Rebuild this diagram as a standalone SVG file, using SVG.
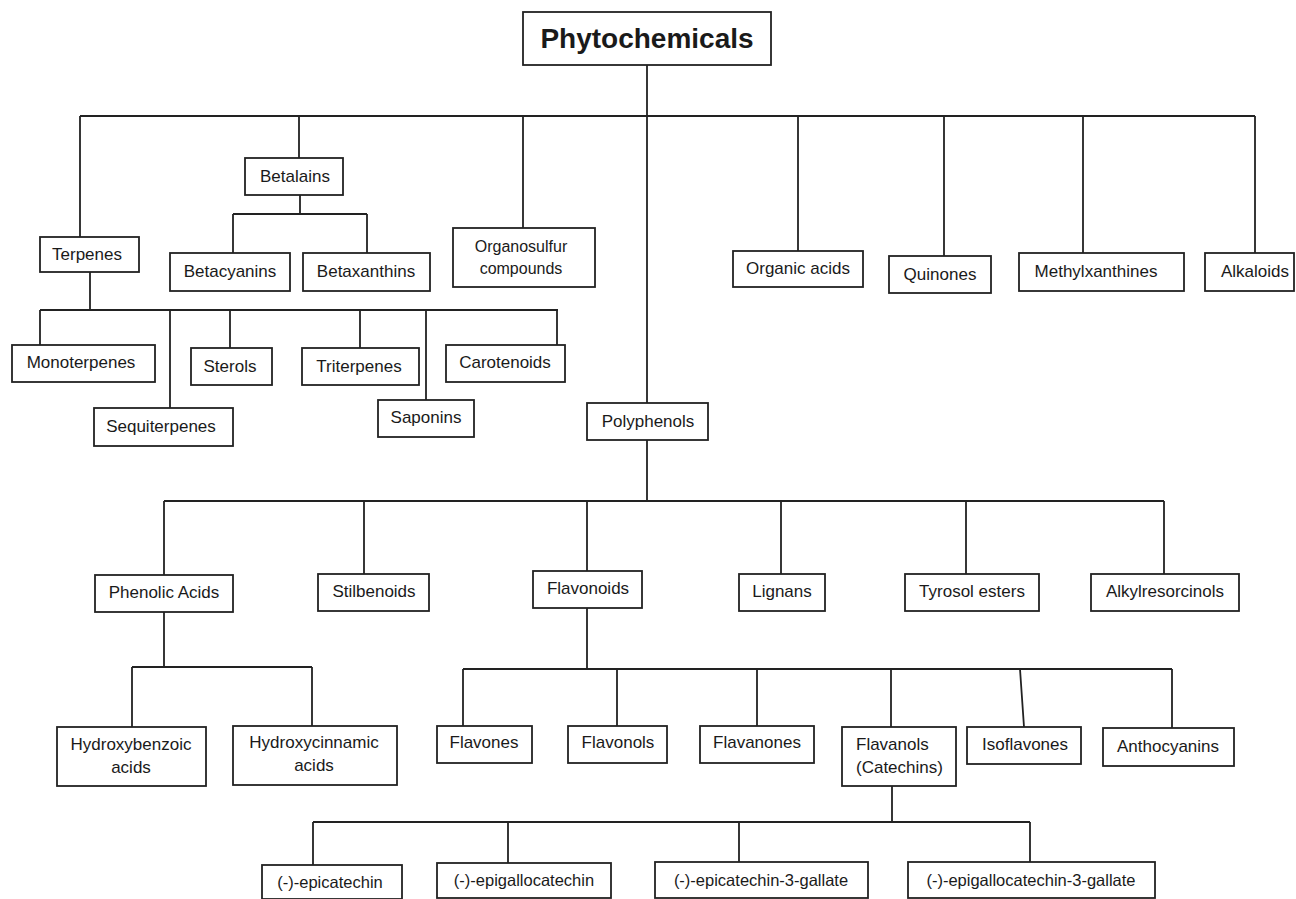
<svg xmlns="http://www.w3.org/2000/svg" width="1296" height="899" viewBox="0 0 1296 899">
<style>
rect{fill:#fff;stroke:#222;stroke-width:1.8}
text{font-family:"Liberation Sans",Arial,sans-serif;font-size:17px;fill:#1a1a1a;text-anchor:middle}
.title{font-size:28px;font-weight:bold}
.sm{font-size:16px}
.bt{font-size:16.5px}
.lines path{fill:none;stroke:#222;stroke-width:1.8}
</style>
<rect x="0" y="0" width="1296" height="899" style="fill:#fff;stroke:none"/>
<g class="lines" id="connectors">
<path d="M647 65V116M80 116H1255M80 116V237M299 116V158M523 116V228M798 116V251M944 116V256M1083 116V253M1255 116V253M647 116V403"/>
<path d="M300 195V214M233 214H367M233 214V253M367 214V253"/>
<path d="M90 272V310M40 310H558M40 310V345M170 310V408M230 310V348M360 310V348M426 310V400M557 310V345"/>
<path d="M647 440V501M164 501H1164M164 501V575M364 501V574M587 501V571M781 501V574M966 501V574M1164 501V574"/>
<path d="M164 612V667M132 667H312M132 667V727M312 667V726"/>
<path d="M587 608V669M463 669H1172M463 669V726M617 669V726M757 669V726M891 669V727M1020 669L1024 727M1172 669V728"/>
<path d="M892 786V822M313 822H1030M313 822V865M508 822V863M739 822V862M1030 822V862"/>
</g>
<g id="phytochemicals"><rect x="523" y="12" width="248" height="53"/><text class="title" x="647" y="48">Phytochemicals</text></g>
<g id="terpenes"><rect x="40" y="237" width="99" height="35"/><text x="87" y="260">Terpenes</text></g>
<g id="betalains"><rect x="245" y="158" width="98" height="37"/><text x="295" y="182">Betalains</text></g>
<g id="betacyanins"><rect x="170" y="253" width="120" height="38"/><text x="230" y="277">Betacyanins</text></g>
<g id="betaxanthins"><rect x="303" y="253" width="127" height="38"/><text x="366" y="277">Betaxanthins</text></g>
<g id="organosulfur"><rect x="453" y="228" width="142" height="59"/><text class="sm" x="521" y="252">Organosulfur</text><text class="sm" x="521" y="274">compounds</text></g>
<g id="organic-acids"><rect x="733" y="251" width="130" height="36"/><text x="798" y="274">Organic acids</text></g>
<g id="quinones"><rect x="889" y="256" width="102" height="37"/><text x="940" y="280">Quinones</text></g>
<g id="methylxanthines"><rect x="1019" y="253" width="165" height="38"/><text x="1096" y="277">Methylxanthines</text></g>
<g id="alkaloids"><rect x="1205" y="253" width="89" height="38"/><text x="1255" y="277">Alkaloids</text></g>
<g id="monoterpenes"><rect x="12" y="345" width="143" height="37"/><text x="81" y="368">Monoterpenes</text></g>
<g id="sequiterpenes"><rect x="94" y="408" width="139" height="38"/><text x="161" y="432">Sequiterpenes</text></g>
<g id="sterols"><rect x="191" y="348" width="81" height="37"/><text x="230" y="372">Sterols</text></g>
<g id="triterpenes"><rect x="302" y="348" width="117" height="37"/><text x="359" y="372">Triterpenes</text></g>
<g id="saponins"><rect x="378" y="400" width="96" height="37"/><text x="426" y="423">Saponins</text></g>
<g id="carotenoids"><rect x="446" y="345" width="119" height="37"/><text x="505" y="368">Carotenoids</text></g>
<g id="polyphenols"><rect x="587" y="403" width="121" height="37"/><text x="648" y="427">Polyphenols</text></g>
<g id="phenolic-acids"><rect x="95" y="575" width="138" height="37"/><text x="164" y="598">Phenolic Acids</text></g>
<g id="stilbenoids"><rect x="318" y="574" width="111" height="37"/><text x="374" y="597">Stilbenoids</text></g>
<g id="flavonoids"><rect x="533" y="571" width="109" height="37"/><text x="588" y="594">Flavonoids</text></g>
<g id="lignans"><rect x="739" y="574" width="86" height="37"/><text x="782" y="597">Lignans</text></g>
<g id="tyrosol-esters"><rect x="905" y="574" width="134" height="37"/><text x="972" y="597">Tyrosol esters</text></g>
<g id="alkylresorcinols"><rect x="1091" y="574" width="148" height="37"/><text x="1165" y="597">Alkylresorcinols</text></g>
<g id="hydroxybenzoic"><rect x="57" y="727" width="149" height="59"/><text x="131" y="750">Hydroxybenzoic</text><text x="131" y="773">acids</text></g>
<g id="hydroxycinnamic"><rect x="233" y="726" width="164" height="59"/><text x="314" y="748">Hydroxycinnamic</text><text x="314" y="771">acids</text></g>
<g id="flavones"><rect x="437" y="726" width="95" height="37"/><text x="484" y="748">Flavones</text></g>
<g id="flavonols"><rect x="568" y="726" width="99" height="37"/><text x="618" y="748">Flavonols</text></g>
<g id="flavanones"><rect x="700" y="726" width="114" height="37"/><text x="757" y="748">Flavanones</text></g>
<g id="flavanols"><rect x="842" y="727" width="114" height="59"/><text x="856" y="750" style="text-anchor:start">Flavanols</text><text x="856" y="773" style="text-anchor:start">(Catechins)</text></g>
<g id="isoflavones"><rect x="967" y="727" width="114" height="37"/><text x="1025" y="750">Isoflavones</text></g>
<g id="anthocyanins"><rect x="1103" y="728" width="131" height="38"/><text x="1168" y="752">Anthocyanins</text></g>
<g id="epicatechin"><rect x="262" y="865" width="140" height="34"/><text class="bt" x="330" y="888">(-)-epicatechin</text></g>
<g id="epigallocatechin"><rect x="437" y="863" width="174" height="35"/><text class="bt" x="524" y="886">(-)-epigallocatechin</text></g>
<g id="epicatechin-3-gallate"><rect x="655" y="862" width="213" height="36"/><text class="bt" x="761" y="886">(-)-epicatechin-3-gallate</text></g>
<g id="epigallocatechin-3-gallate"><rect x="908" y="862" width="247" height="36"/><text class="bt" x="1031" y="886">(-)-epigallocatechin-3-gallate</text></g>
</svg>
